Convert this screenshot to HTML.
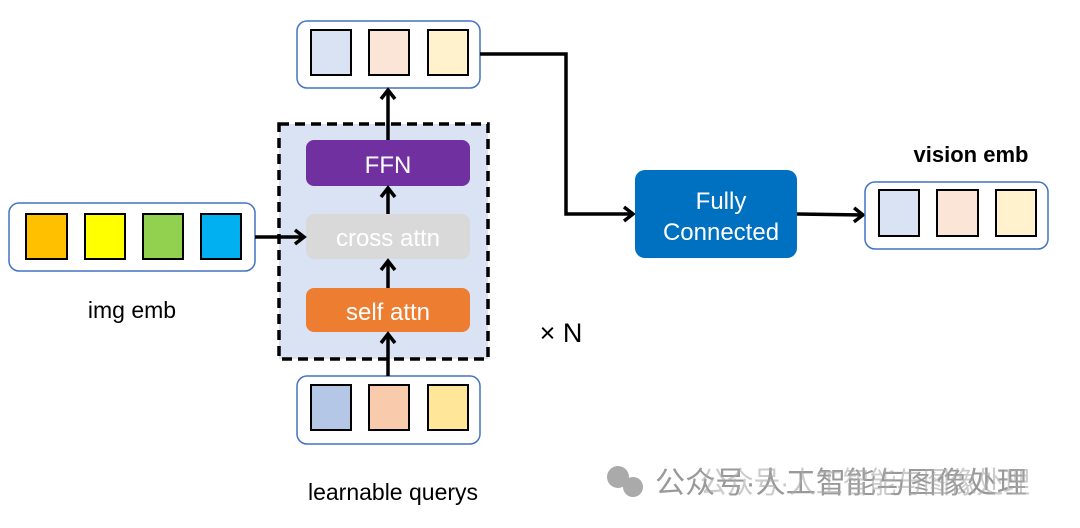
<!DOCTYPE html>
<html><head><style>
body{margin:0;background:#fff}
svg text{font-family:"Liberation Sans","Noto Sans CJK SC",sans-serif}
</style></head><body>
<svg width="1080" height="523" viewBox="0 0 1080 523" xmlns="http://www.w3.org/2000/svg">
<defs><marker id="a" markerWidth="14" markerHeight="18" refX="11" refY="9" orient="auto" markerUnits="userSpaceOnUse"><path d="M2,2 L11,9 L2,16" fill="none" stroke="#000" stroke-width="3.5"/></marker></defs>
<rect x="279" y="124" width="209" height="235" fill="#dae3f3" stroke="#000" stroke-width="3.5" stroke-dasharray="10,6"/>
<rect x="306" y="140" width="164" height="46" rx="8" fill="#7030a0"/>
<text x="388" y="173" font-size="24" fill="#fff" text-anchor="middle">FFN</text>
<rect x="306" y="214" width="164" height="45" rx="8" fill="#d9d9d9"/>
<text x="388" y="246" font-size="24" fill="#fff" text-anchor="middle">cross attn</text>
<rect x="306" y="288" width="164" height="44" rx="8" fill="#ed7d31"/>
<text x="388" y="320" font-size="24" fill="#fff" text-anchor="middle">self attn</text>
<rect x="297" y="21" width="183" height="67" rx="10" fill="#fff" stroke="#4472c4" stroke-width="1.5"/>
<rect x="311" y="30" width="40" height="45" fill="#dae3f3" stroke="#000" stroke-width="2"/>
<rect x="369" y="30" width="40" height="45" fill="#fbe5d6" stroke="#000" stroke-width="2"/>
<rect x="428" y="30" width="40" height="45" fill="#fff2cc" stroke="#000" stroke-width="2"/>
<rect x="297" y="376" width="183" height="68" rx="10" fill="#fff" stroke="#4472c4" stroke-width="1.5"/>
<rect x="311" y="385" width="40" height="45" fill="#b4c7e7" stroke="#000" stroke-width="2"/>
<rect x="369" y="385" width="40" height="45" fill="#f8cbad" stroke="#000" stroke-width="2"/>
<rect x="428" y="385" width="40" height="45" fill="#ffe699" stroke="#000" stroke-width="2"/>
<rect x="9" y="203" width="246" height="68" rx="10" fill="#fff" stroke="#4472c4" stroke-width="1.5"/>
<rect x="26" y="214" width="41" height="45" fill="#ffc000" stroke="#000" stroke-width="2"/>
<rect x="85" y="214" width="40" height="45" fill="#ffff00" stroke="#000" stroke-width="2"/>
<rect x="143" y="214" width="40" height="45" fill="#92d050" stroke="#000" stroke-width="2"/>
<rect x="201" y="214" width="40" height="45" fill="#00b0f0" stroke="#000" stroke-width="2"/>
<text x="132" y="318" font-size="23" text-anchor="middle">img emb</text>
<text x="393" y="500" font-size="23" text-anchor="middle">learnable querys</text>
<text x="561" y="342" font-size="27" text-anchor="middle">× N</text>
<g stroke="#000" stroke-width="3.5" fill="none">
<line x1="388" y1="376" x2="388" y2="334" marker-end="url(#a)"/>
<line x1="388" y1="288" x2="388" y2="261" marker-end="url(#a)"/>
<line x1="388" y1="214" x2="388" y2="188" marker-end="url(#a)"/>
<line x1="388" y1="140" x2="388" y2="90" marker-end="url(#a)"/>
<line x1="255" y1="237" x2="304" y2="237" marker-end="url(#a)"/>
<polyline points="480,54 566,54 566,214 633,214" marker-end="url(#a)"/>
<line x1="797" y1="214" x2="863" y2="215" marker-end="url(#a)"/>
</g>
<rect x="635" y="170" width="162" height="88" rx="10" fill="#0070c0"/>
<text x="721" y="209" font-size="24" fill="#fff" text-anchor="middle">Fully</text>
<text x="721" y="240" font-size="24" fill="#fff" text-anchor="middle">Connected</text>
<text x="971" y="162" font-size="22" font-weight="bold" text-anchor="middle">vision emb</text>
<rect x="865" y="182" width="183" height="67" rx="10" fill="#fff" stroke="#4472c4" stroke-width="1.5"/>
<rect x="879" y="190" width="40" height="46" fill="#dae3f3" stroke="#000" stroke-width="2"/>
<rect x="937" y="190" width="41" height="46" fill="#fbe5d6" stroke="#000" stroke-width="2"/>
<rect x="996" y="190" width="40" height="46" fill="#fff2cc" stroke="#000" stroke-width="2"/>
<circle cx="618" cy="477" r="11" fill="#aaa"/><circle cx="633" cy="487" r="10" fill="#aaa"/>
<text x="655" y="493" font-size="30" fill="#999" textLength="372" lengthAdjust="spacingAndGlyphs">公众号·人工智能与图像处理</text>
<text x="700" y="493" font-size="30" fill="#aaa" opacity="0.6" textLength="330" lengthAdjust="spacingAndGlyphs">公众号·人工智能与图像处理</text>
</svg>
</body></html>
